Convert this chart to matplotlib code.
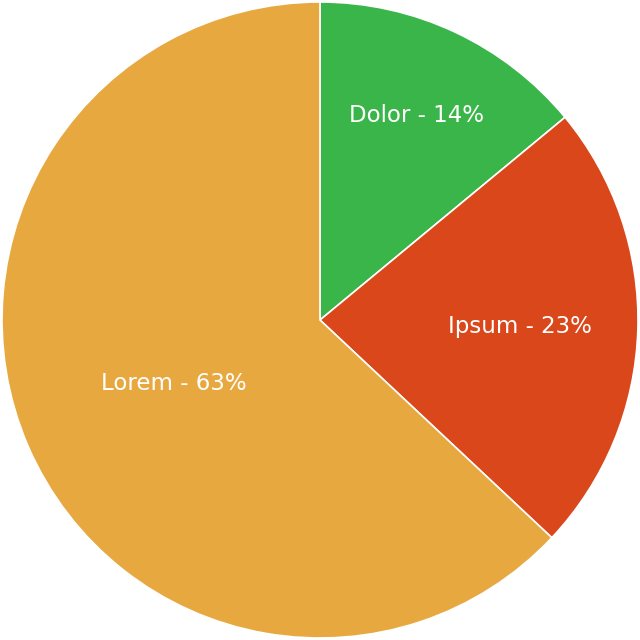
import numpy as np
import matplotlib
matplotlib.use("Agg")
import matplotlib.pyplot as plt

categories = ["Dolor", "Ipsum", "Lorem"]
values = [14, 23, 63]
colors = ["#3AB54A", "#D9471A", "#E8A840"]
label_radius = [0.71, 0.63, 0.50]

fig = plt.figure(figsize=(6.4, 6.4), dpi=100)
ax = fig.add_axes([0, 0, 1, 1])
wedges, _ = ax.pie(values, colors=colors, startangle=90, counterclock=False,
                   radius=1.0, wedgeprops=dict(edgecolor="white", linewidth=1.2))
for w, cat, v, r in zip(wedges, categories, values, label_radius):
    mid = np.deg2rad((w.theta1 + w.theta2) / 2)
    ax.text(r * np.cos(mid), r * np.sin(mid), f"{cat} - {v}%", color="white",
            ha="center", va="center", fontsize=16.5, fontweight="normal",
            family=["DejaVu Sans"])
lim = 320 / 318
ax.set_xlim(-lim, lim)
ax.set_ylim(-lim, lim)
ax.set_aspect("equal")
ax.axis("off")
fig.savefig("out.png", dpi=100, facecolor="white")
